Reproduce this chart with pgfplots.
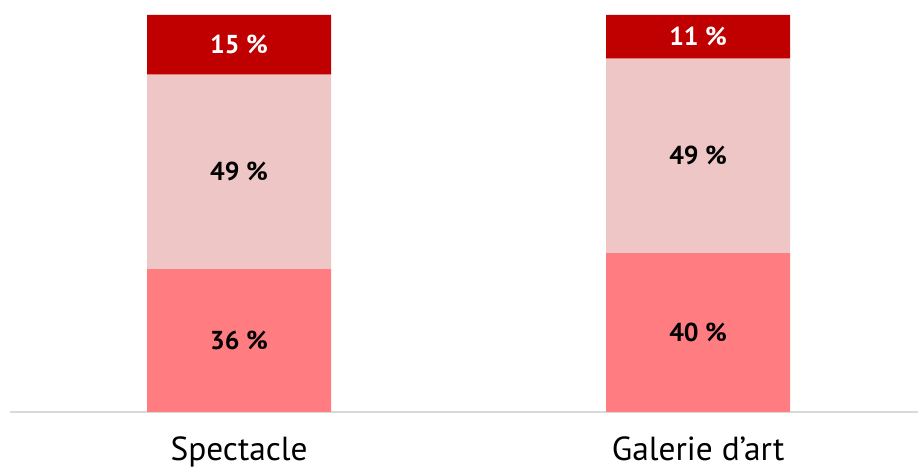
\documentclass[border=0pt]{standalone}
\usepackage{fontspec}
\setmainfont{PT Sans}
\usepackage{pgfplots}
\pgfplotsset{compat=1.18}

\definecolor{topred}{HTML}{C00000}
\definecolor{midpink}{HTML}{EEC6C6}
\definecolor{lowred}{HTML}{FF7C80}
\definecolor{baseline}{HTML}{D9D9D9}

\pgfplotsset{
  common/.style={
    at={(10bp,57bp)}, anchor=south west,
    scale only axis, width=908bp, height=397bp,
    xmin=-0.499, xmax=1.479, ymin=0, ymax=100,
    axis y line=none,
    xtick={0,1}, xticklabels={Spectacle,Galerie d’art},
    major tick length=0pt,
    clip=false,
  }
}

\begin{document}
\begin{tikzpicture}[x=1bp,y=1bp]
\useasboundingbox (0,0) rectangle (918,469);
\begin{axis}[common,
    ybar stacked, bar width=184bp,
    axis x line*=bottom,
    x axis line style={draw=baseline, line width=1.5bp, -},
    x tick label style={font=\fontsize{33.5}{33.5}\selectfont, yshift=-21bp},
  ]
  \addplot[draw=none, fill=lowred] coordinates {(0,36) (1,40)};
  \addplot[draw=none, fill=midpink] coordinates {(0,49) (1,49)};
  \addplot[draw=none, fill=topred] coordinates {(0,15) (1,11)};
\end{axis}
\begin{axis}[common, hide axis,
    nodes near coords, point meta=explicit symbolic,
    nodes near coords align=center,
    every node near coord/.append style={font=\bfseries\fontsize{26}{26}\selectfont, anchor=center},
  ]
  \addplot[only marks, mark=none, black] coordinates {(0,18) [36 \%] (1,20) [40 \%] (0,60.5) [49 \%] (1,64.5) [49 \%]};
  \addplot[only marks, mark=none, white] coordinates {(0,92.5) [15 \%] (1,94.5) [11 \%]};
\end{axis}
\end{tikzpicture}
\end{document}
